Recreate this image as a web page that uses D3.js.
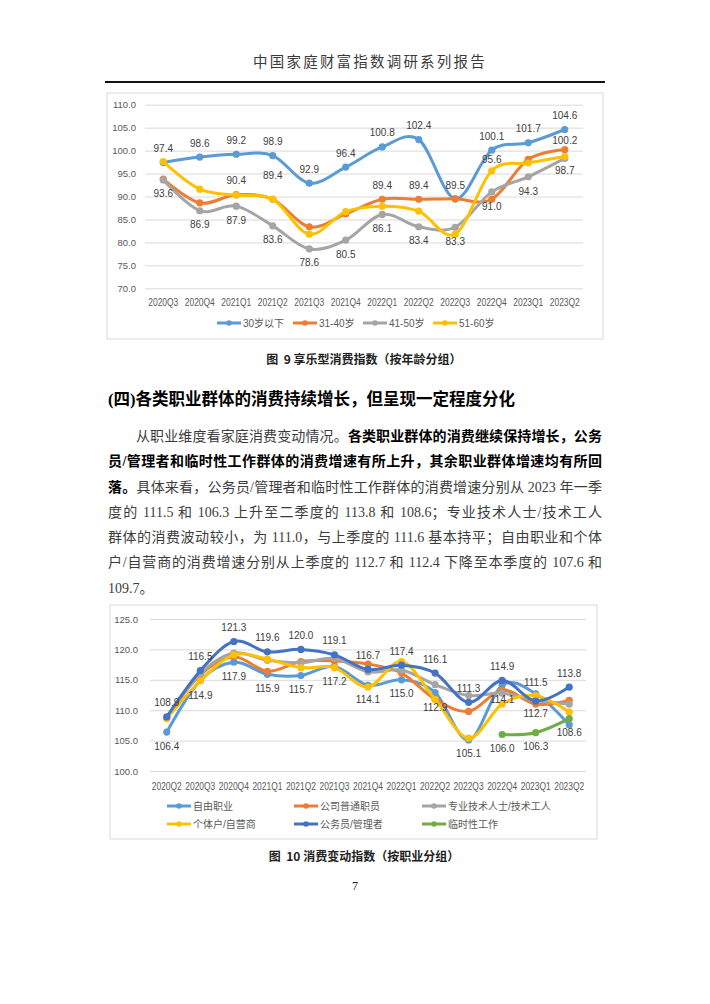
<!DOCTYPE html>
<html><head><meta charset="utf-8">
<script src="https://cdn.jsdelivr.net/npm/d3@7"></script>
<style>
body{margin:0;background:#fff;width:710px;height:1004px;overflow:hidden;position:relative;font-family:"Liberation Serif","Noto Sans CJK SC",serif;}
svg{position:absolute;left:0;top:0;}
.para{position:absolute;left:108px;top:424px;width:494px;font-size:14px;line-height:25.3px;color:#3c3c3c;}
.para div{text-align:justify;text-align-last:justify;}
.para div.last{text-align-last:left;}
.para b{color:#000;font-weight:bold;}
.heading{position:absolute;left:108px;top:386px;font-size:16.5px;font-weight:bold;color:#000;white-space:nowrap;}
</style>
</head><body>
<div class="heading">(四)各类职业群体的消费持续增长，但呈现一定程度分化</div>
<div class="para">
<div style="padding-left:28px">从职业维度看家庭消费变动情况。<b>各类职业群体的消费继续保持增长，公务</b></div>
<div><b>员/管理者和临时性工作群体的消费增速有所上升，其余职业群体增速均有所回</b></div>
<div><b>落。</b>具体来看，公务员/管理者和临时性工作群体的消费增速分别从 2023 年一季</div>
<div>度的 111.5 和 106.3 上升至二季度的 113.8 和 108.6；专业技术人士/技术工人</div>
<div>群体的消费波动较小，为 111.0，与上季度的 111.6 基本持平；自由职业和个体</div>
<div>户/自营商的消费增速分别从上季度的 112.7 和 112.4 下降至本季度的 107.6 和</div>
<div class="last">109.7。</div>
</div>
<svg id="page" width="710" height="1004"></svg>
<script>
// ---------- Chart 1 data: 享乐型消费指数（按年龄分组） ----------
const ageQuarters = ["2020Q3","2020Q4","2021Q1","2021Q2","2021Q3","2021Q4","2022Q1","2022Q2","2022Q3","2022Q4","2023Q1","2023Q2"];
const ageUnder30 = [97.4, 98.6, 99.2, 98.9, 92.9, 96.4, 100.8, 102.4, 89.5, 100.1, 101.7, 104.6];
const age31to40  = [93.8, 88.6, 90.4, 89.4, 83.4, 86.2, 89.4, 89.4, 89.5, 89.4, 98.1, 100.2];
const age41to50  = [93.6, 86.9, 87.9, 83.6, 78.6, 80.5, 86.1, 83.4, 83.3, 91.0, 94.3, 98.3];
const age51to60  = [97.6, 91.6, 90.3, 89.4, 81.8, 86.7, 87.9, 86.8, 81.8, 95.6, 97.3, 98.7];
const ageNames   = ["30岁以下","31-40岁","41-50岁","51-60岁"];
const ageTicks   = [70,75,80,85,90,95,100,105,110];
// label offsets (null = no label)
const ageUnder30Lbl = [-14,-14,-14,-14,-14,-14,-14,-14,-13,-14,-14,-14];
const age31to40Lbl  = [null,null,-14,-24,null,null,-14,-14,null,null,null,-9];
const age41to50Lbl  = [14,14,14,14,14,14,14,14,14,15,15,null];
const age51to60Lbl  = [null,null,null,null,null,null,null,null,null,-11,null,14];

// ---------- Chart 2 data: 消费变动指数（按职业分组） ----------
const jobQuarters = ["2020Q2","2020Q3","2020Q4","2021Q1","2021Q2","2021Q3","2021Q4","2022Q1","2022Q2","2022Q3","2022Q4","2023Q1","2023Q2"];
const jobFreelance = [106.4, 114.9, 117.9, 115.9, 115.7, 117.2, 114.1, 115.0, 112.9, 105.1, 114.1, 112.7, 107.6];
const jobEmployee  = [108.8, 115.8, 118.8, 116.4, 118.0, 118.1, 117.6, 116.1, 111.8, 109.8, 113.3, 111.0, 111.6];
const jobProfessional = [108.7, 116.0, 119.4, 118.2, 117.8, 118.5, 116.3, 116.6, 114.2, 112.4, 112.8, 111.6, 111.0];
const jobSelfEmployed = [108.6, 114.8, 119.1, 118.4, 117.0, 117.0, 113.8, 118.0, 111.8, 105.4, 111.0, 112.4, 109.7];
const jobCivilServant = [108.9, 116.5, 121.3, 119.6, 120.0, 119.1, 116.7, 117.4, 116.1, 111.3, 114.9, 111.5, 113.8];
const jobTemporary = [null, null, null, null, null, null, null, null, null, null, 106.0, 106.3, 108.6];
const jobNames = ["自由职业","公司普通职员","专业技术人士/技术工人","个体户/自营商","公务员/管理者","临时性工作"];
const jobTicks = [100,105,110,115,120,125];
const jobFreelanceLbl = [14,15,14,14,14,15,14,14,15,14,14,20,null];
const jobCivilServantLbl = [-14,-14,-14,-14,-14,-14,-14,-14,-14,-14,-14,-19,-14];
const jobTemporaryLbl = [null,null,null,null,null,null,null,null,null,null,14,14,14];
const noLbl = null;

const svg = d3.select("#page");
const LABEL_FONT = "'Liberation Sans','Noto Sans CJK SC',sans-serif";

// page header
svg.append("text").attr("x",370).attr("y",67).attr("text-anchor","middle")
  .attr("font-family","'Noto Sans CJK SC'").attr("font-size",14.5).attr("letter-spacing",2.2)
  .attr("fill","#3a3a3a").text("中国家庭财富指数调研系列报告");
svg.append("line").attr("x1",105).attr("x2",605).attr("y1",82).attr("y2",82)
  .attr("stroke","#111").attr("stroke-width",1.8);

function drawChart(cfg){
  const g = svg.append("g");
  g.append("rect").attr("x",cfg.box[0]).attr("y",cfg.box[1]).attr("width",cfg.box[2]).attr("height",cfg.box[3])
    .attr("fill","#fff").attr("stroke","#d9d9d9").attr("stroke-width",1);
  const x = d3.scaleBand().domain(cfg.cats).range([cfg.x0,cfg.x1]);
  const y = d3.scaleLinear().domain([cfg.ticks[0], cfg.ticks[cfg.ticks.length-1]]).range([cfg.yb,cfg.yt]);
  const cx = (i)=> x(cfg.cats[i]) + x.bandwidth()/2;
  // grid
  g.append("g").selectAll("line").data(cfg.ticks).join("line")
    .attr("x1",cfg.x0).attr("x2",cfg.x1).attr("y1",d=>y(d)+0.5).attr("y2",d=>y(d)+0.5)
    .attr("stroke","#d9d9d9").attr("stroke-width",1);
  // y axis via d3 axis (no domain/ticks lines)
  const ya = g.append("g").attr("transform",`translate(${cfg.x0},0)`)
    .call(d3.axisLeft(y).tickValues(cfg.ticks).tickFormat(d3.format(".1f")).tickSize(0).tickPadding(cfg.ypad));
  ya.select(".domain").remove();
  ya.selectAll("text").attr("font-family",LABEL_FONT).attr("font-size",9.5).attr("fill","#595959");
  const xa = g.append("g").attr("transform",`translate(0,${cfg.yb})`)
    .call(d3.axisBottom(x).tickSize(0).tickPadding(cfg.xpad));
  xa.select(".domain").remove();
  xa.selectAll("text").attr("font-family",LABEL_FONT).attr("font-size",10).attr("fill","#595959")
    .attr("textLength",30).attr("lengthAdjust","spacingAndGlyphs");
  // lines
  const line = d3.line().defined(d=>d.v!=null).x(d=>cx(d.i)).y(d=>y(d.v)).curve(d3.curveCatmullRom.alpha(0));
  cfg.series.forEach(s=>{
    const pts = s.values.map((v,i)=>({v,i}));
    g.append("path").attr("d",line(pts)).attr("fill","none").attr("stroke",s.color)
      .attr("stroke-width",cfg.lw).attr("stroke-linecap","round").attr("stroke-linejoin","round");
    g.append("g").selectAll("circle").data(pts.filter(d=>d.v!=null)).join("circle")
      .attr("cx",d=>cx(d.i)).attr("cy",d=>y(d.v)).attr("r",cfg.r).attr("fill",s.color);
  });
  // labels
  cfg.series.forEach(s=>{
    if(!s.lbl) return;
    const pts = s.values.map((v,i)=>({v,i,dy:s.lbl[i]})).filter(d=>d.v!=null && d.dy!=null);
    g.append("g").selectAll("text").data(pts).join("text")
      .attr("x",d=>cx(d.i)).attr("y",d=>y(d.v)+d.dy).attr("dy","0.35em")
      .attr("text-anchor","middle").attr("font-family",LABEL_FONT).attr("font-size",10).attr("fill","#404040")
      .text(d=>d3.format(".1f")(d.v));
  });
  // legend
  cfg.legend.forEach((it,k)=>{
    const s = cfg.series[k];
    const lg = g.append("g");
    lg.append("line").attr("x1",it.x).attr("x2",it.x+24).attr("y1",it.y).attr("y2",it.y)
      .attr("stroke",s.color).attr("stroke-width",3);
    lg.append("circle").attr("cx",it.x+12).attr("cy",it.y).attr("r",2.8).attr("fill",s.color);
    lg.append("text").attr("x",it.x+26).attr("y",it.y).attr("dy","0.35em")
      .attr("font-family",LABEL_FONT).attr("font-size",10).attr("fill","#595959").text(s.name);
  });
  // caption
  svg.append("text").attr("x",cfg.cap[0]).attr("y",cfg.cap[1]).attr("text-anchor","middle")
    .attr("font-family","'Noto Sans CJK SC'").attr("font-size",12).attr("font-weight",600)
    .attr("fill","#222").style("white-space","pre").text(cfg.cap[2]);
}

// legend positions chart 1
const leg1X = [217, 293, 363, 433];
drawChart({
  box:[107,93,496,246],
  cats: ageQuarters, x0:145, x1:583, yb:288.3, yt:104.7, ticks: ageTicks, ypad:9, xpad:11,
  lw:3, r:3.6,
  series:[
    {name:ageNames[0], values:ageUnder30, color:"#5b9bd5", lbl:ageUnder30Lbl},
    {name:ageNames[1], values:age31to40, color:"#ed7d31", lbl:age31to40Lbl},
    {name:ageNames[2], values:age41to50, color:"#a5a5a5", lbl:age41to50Lbl},
    {name:ageNames[3], values:age51to60, color:"#ffc000", lbl:age51to60Lbl}
  ],
  legend: leg1X.map(x=>({x, y:323})),
  cap:[364, 364, "图  9 享乐型消费指数（按年龄分组）"]
});

drawChart({
  box:[110,605,487,234],
  cats: jobQuarters, x0:150, x1:586, yb:771, yt:619, ticks: jobTicks, ypad:12, xpad:12,
  lw:3, r:3.6,
  series:[
    {name:jobNames[0], values:jobFreelance, color:"#5b9bd5", lbl:jobFreelanceLbl},
    {name:jobNames[1], values:jobEmployee, color:"#ed7d31", lbl:noLbl},
    {name:jobNames[2], values:jobProfessional, color:"#a5a5a5", lbl:noLbl},
    {name:jobNames[3], values:jobSelfEmployed, color:"#ffc000", lbl:noLbl},
    {name:jobNames[4], values:jobCivilServant, color:"#4472c4", lbl:jobCivilServantLbl},
    {name:jobNames[5], values:jobTemporary, color:"#70ad47", lbl:jobTemporaryLbl}
  ],
  legend:[{x:167,y:806},{x:294,y:806},{x:422,y:806},{x:167,y:824},{x:294,y:824},{x:422,y:824}],
  cap:[364, 861, "图  10 消费变动指数（按职业分组）"]
});

// page number
svg.append("text").attr("x",355).attr("y",890).attr("text-anchor","middle")
  .attr("font-family","'Liberation Serif'").attr("font-size",12).attr("fill","#222").text("7");
</script>
</body></html>
